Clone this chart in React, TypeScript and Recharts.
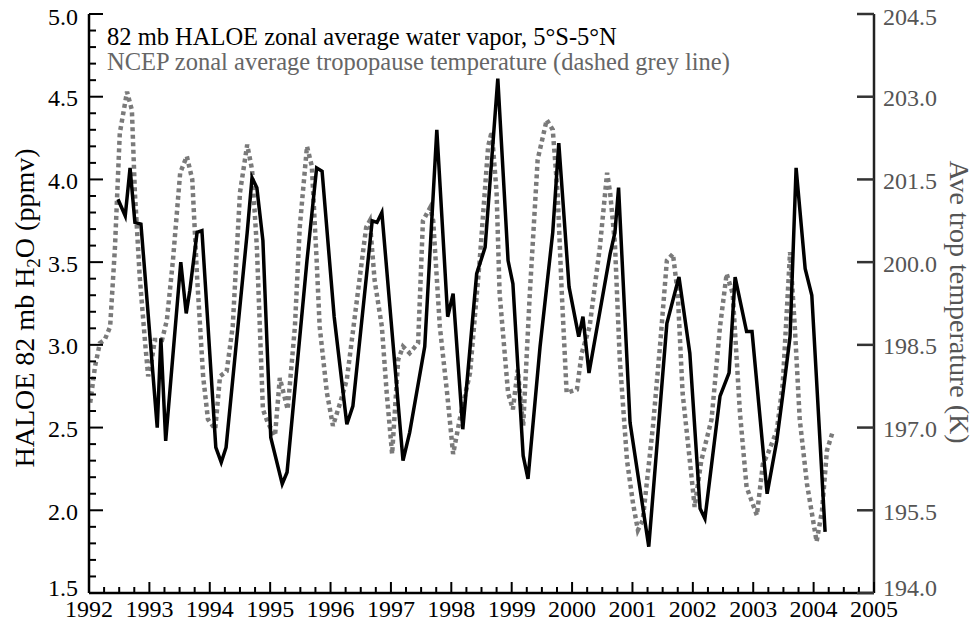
import React from 'react';
import { LineChart, Line, XAxis, YAxis } from 'recharts';

// HALOE 82 mb water vapour (ppmv)
const h2oYears = [
  1992.48, 1992.6, 1992.68, 1992.76, 1992.86, 1993.13, 1993.19, 1993.27, 1993.52, 1993.61,
  1993.67, 1993.79, 1993.87, 1994.1, 1994.19, 1994.27, 1994.62, 1994.7, 1994.78, 1994.88,
  1995.01, 1995.2, 1995.28, 1995.61, 1995.77, 1995.86, 1996.06, 1996.27, 1996.37, 1996.69,
  1996.77, 1996.85, 1997.2, 1997.31, 1997.56, 1997.76, 1997.94, 1998.03, 1998.19, 1998.42,
  1998.56, 1998.77, 1998.94, 1999.02, 1999.19, 1999.27, 1999.47, 1999.68, 1999.78, 1999.95,
  2000.11, 2000.18, 2000.28, 2000.63, 2000.71, 2000.77, 2000.96, 2001.27, 2001.57, 2001.77,
  2001.95, 2002.12, 2002.2, 2002.45, 2002.6, 2002.7, 2002.89, 2002.98, 2003.23, 2003.39,
  2003.49, 2003.61, 2003.71, 2003.86, 2003.97, 2004.19,
];
const h2oPpmv = [
  3.88, 3.78, 4.07, 3.74, 3.73, 2.5, 3.04, 2.42, 3.5, 3.19,
  3.33, 3.68, 3.69, 2.38, 2.29, 2.38, 3.68, 4.01, 3.95, 3.63,
  2.44, 2.16, 2.23, 3.51, 4.07, 4.05, 3.17, 2.52, 2.63, 3.75,
  3.74, 3.8, 2.3, 2.47, 2.99, 4.3, 3.17, 3.31, 2.49, 3.43,
  3.59, 4.61, 3.51, 3.37, 2.33, 2.19, 2.99, 3.68, 4.22, 3.35,
  3.05, 3.17, 2.83, 3.55, 3.68, 3.95, 2.53, 1.78, 3.13, 3.41,
  2.95, 2.01, 1.95, 2.69, 2.83, 3.41, 3.08, 3.08, 2.1, 2.42,
  2.7, 3.05, 4.07, 3.46, 3.3, 1.87,
];

// NCEP zonal average tropopause temperature (K)
const tempYears = [
  1992.02, 1992.1, 1992.18, 1992.26, 1992.35, 1992.43, 1992.51, 1992.63, 1992.71, 1992.76,
  1992.84, 1992.93, 1992.98, 1993.04, 1993.09, 1993.21, 1993.29, 1993.39, 1993.51, 1993.62,
  1993.71, 1993.79, 1993.89, 1993.97, 1994.09, 1994.17, 1994.28, 1994.38, 1994.5, 1994.62,
  1994.7, 1994.78, 1994.88, 1994.96, 1995.08, 1995.16, 1995.29, 1995.41, 1995.49, 1995.61,
  1995.69, 1995.77, 1995.82, 1995.94, 1996.04, 1996.16, 1996.27, 1996.45, 1996.59, 1996.65,
  1996.73, 1996.85, 1996.93, 1997.02, 1997.12, 1997.2, 1997.31, 1997.45, 1997.53, 1997.65,
  1997.7, 1997.81, 1997.93, 1998.03, 1998.14, 1998.31, 1998.47, 1998.61, 1998.67, 1998.75,
  1998.8, 1998.94, 1999.02, 1999.1, 1999.19, 1999.3, 1999.43, 1999.58, 1999.68, 1999.76,
  1999.83, 1999.91, 2000.08, 2000.16, 2000.29, 2000.46, 2000.58, 2000.63, 2000.71, 2000.79,
  2000.91, 2001.01, 2001.09, 2001.17, 2001.34, 2001.46, 2001.57, 2001.67, 2001.75, 2001.83,
  2001.95, 2002.03, 2002.14, 2002.31, 2002.45, 2002.56, 2002.66, 2002.78, 2002.89, 2003.06,
  2003.16, 2003.24, 2003.39, 2003.49, 2003.61, 2003.69, 2003.77, 2003.89, 2004.05, 2004.14,
  2004.22, 2004.32,
];
const tempK = [
  197.45, 198.11, 198.53, 198.59, 198.83, 200.27, 202.34, 203.09, 202.76, 201.26,
  199.73, 198.53, 197.93, 198.23, 198.59, 198.59, 198.95, 200.03, 201.62, 201.92,
  201.5, 199.73, 197.93, 197.15, 196.97, 197.93, 198.02, 198.83, 201.26, 202.13,
  201.68, 200.27, 197.33, 197.09, 196.85, 197.9, 197.33, 198.83, 200.63, 202.1,
  201.74, 200.03, 198.83, 197.63, 197.03, 197.45, 197.87, 199.43, 200.63, 200.75,
  199.67, 198.83, 197.63, 196.52, 198.23, 198.47, 198.35, 198.53, 200.75, 200.99,
  200.75, 198.83, 197.63, 196.52, 197.15, 197.99, 200.03, 202.1, 202.37, 201.26,
  199.43, 197.63, 197.33, 198.05, 197.03, 199.43, 201.86, 202.58, 202.4, 201.26,
  199.43, 197.63, 197.69, 198.35, 198.83, 200.27, 201.62, 201.26, 200.33, 198.23,
  196.4, 195.62, 195.14, 195.32, 197.03, 198.53, 200.03, 200.15, 199.43, 197.63,
  196.4, 195.56, 196.4, 197.15, 198.83, 199.79, 199.43, 197.27, 195.92, 195.41,
  196.34, 196.52, 196.94, 197.81, 200.18, 198.8, 197.15, 195.98, 194.93, 195.5,
  196.58, 196.94,
];

// Axis ticks
const xTicks = Array.from({ length: 53 }, (_, i) => 1992 + i * 0.25);
const leftTicks = Array.from({ length: 36 }, (_, i) => Math.round((1.5 + i * 0.1) * 10) / 10);
const rightTicks = [194.0, 195.5, 197.0, 198.5, 200.0, 201.5, 203.0, 204.5];

const legendLine1 = '82 mb HALOE zonal average water vapor, 5°S-5°N';
const legendLine2 = 'NCEP zonal average tropopause temperature (dashed grey line)';

const h2oData = h2oYears.map((year, i) => ({ year, h2o: h2oPpmv[i] }));
const tempData = tempYears.map((year, i) => ({ year, temp: tempK[i] }));

const FONT = '"Liberation Serif", "Times New Roman", serif';
const W = 974;
const H = 626;
const TICK_FS = 24;
const TITLE_FS = 28;

const isMajor = (v: number, step: number) => Math.abs(v / step - Math.round(v / step)) < 1e-6;

const BottomTick = (props: any) => {
  const { x, y, payload } = props;
  const v = payload.value;
  const major = isMajor(v, 1);
  return (
    <g>
      <line x1={x} x2={x} y1={y} y2={y - (major ? 11 : 6)} stroke="#000" strokeWidth={2} />
      {major && (
        <text x={x} y={y + 24} textAnchor="middle" fontFamily={FONT} fontSize={TICK_FS} fill="#000">
          {v}
        </text>
      )}
    </g>
  );
};

const TopTick = (props: any) => {
  const { x, y, payload } = props;
  const major = isMajor(payload.value, 1);
  return <line x1={x} x2={x} y1={y} y2={y + (major ? 11 : 6)} stroke="#000" strokeWidth={2} />;
};

const LeftTick = (props: any) => {
  const { x, y, payload } = props;
  const v = payload.value;
  const major = isMajor(v, 0.5);
  const dy = v === 1.5 ? -5 : v === 5.0 ? 3 : 1;
  return (
    <g>
      <line x1={x} x2={x + (major ? 14 : 7)} y1={y} y2={y} stroke="#000" strokeWidth={2} />
      {major && (
        <text x={x - 11} y={y + dy} dy="0.35em" textAnchor="end" fontFamily={FONT} fontSize={TICK_FS} fill="#000">
          {v.toFixed(1)}
        </text>
      )}
    </g>
  );
};

const RightTick = (props: any) => {
  const { x, y, payload } = props;
  const v = payload.value;
  const dy = v === 194.0 ? -5 : v === 204.5 ? 3 : 1;
  return (
    <g>
      <line x1={x} x2={x - 17} y1={y} y2={y} stroke="#333" strokeWidth={2.5} />
      <text x={x + 9} y={y + dy} dy="0.35em" textAnchor="start" fontFamily={FONT} fontSize={TICK_FS} fill="#555">
        {v.toFixed(1)}
      </text>
    </g>
  );
};

const LeftTitle = () => (
  <text
    transform="translate(24, 308) rotate(-90)"
    textAnchor="middle"
    dy="0.35em"
    fontFamily={FONT}
    fontSize={TITLE_FS}
    fill="#000"
  >
    HALOE 82 mb H
    <tspan fontSize={19} dy={6}>2</tspan>
    <tspan dy={-6}>O (ppmv)</tspan>
  </text>
);

const RightTitle = () => (
  <text
    transform="translate(960, 302) rotate(90)"
    textAnchor="middle"
    dy="0.35em"
    fontFamily={FONT}
    fontSize={TITLE_FS}
    fill="#555"
  >
    Ave trop temperature (K)
  </text>
);

export default function App() {
  return (
    <div style={{ position: 'absolute', left: 0, top: 0, width: W, height: H, background: '#fff' }}>
      <LineChart width={W} height={H} margin={{ top: 14, right: 0, bottom: 0, left: 0 }}>
        <XAxis
          xAxisId="bottom"
          dataKey="year"
          type="number"
          domain={[1992, 2005]}
          ticks={xTicks}
          interval={0}
          height={33}
          tickSize={0}
          tickMargin={0}
          tickLine={false}
          tick={BottomTick}
          axisLine={{ stroke: '#000', strokeWidth: 2.5 }}
          allowDataOverflow
        />
        <XAxis
          xAxisId="top"
          orientation="top"
          dataKey="year"
          type="number"
          domain={[1992, 2005]}
          ticks={xTicks}
          interval={0}
          height={0}
          tickSize={0}
          tickMargin={0}
          tickLine={false}
          tick={TopTick}
          axisLine={{ stroke: '#000', strokeWidth: 2.5 }}
          allowDataOverflow
        />
        <YAxis
          yAxisId="left"
          type="number"
          domain={[1.5, 5.0]}
          ticks={leftTicks}
          interval={0}
          width={89}
          tickSize={0}
          tickMargin={0}
          tickLine={false}
          tick={LeftTick}
          axisLine={{ stroke: '#000', strokeWidth: 2.5 }}
          label={{ content: LeftTitle }}
          allowDataOverflow
        />
        <YAxis
          yAxisId="right"
          orientation="right"
          type="number"
          domain={[194.0, 204.5]}
          ticks={rightTicks}
          interval={0}
          width={100}
          tickSize={0}
          tickMargin={0}
          tickLine={false}
          tick={RightTick}
          axisLine={{ stroke: '#222', strokeWidth: 2.5 }}
          label={{ content: RightTitle }}
          allowDataOverflow
        />
        <Line
          data={tempData}
          xAxisId="bottom"
          yAxisId="right"
          dataKey="temp"
          type="linear"
          stroke="#7a7a7a"
          strokeWidth={4.5}
          strokeDasharray="4 3.5"
          dot={false}
          activeDot={false}
          isAnimationActive={false}
        />
        <Line
          data={h2oData}
          xAxisId="bottom"
          yAxisId="left"
          dataKey="h2o"
          type="linear"
          stroke="#000"
          strokeWidth={3.5}
          strokeLinejoin="miter"
          dot={false}
          activeDot={false}
          isAnimationActive={false}
        />
      </LineChart>
      <div
        style={{
          position: 'absolute',
          left: 107,
          top: 24,
          fontFamily: FONT,
          fontSize: 24.5,
          lineHeight: '25px',
          whiteSpace: 'nowrap',
        }}
      >
        <div style={{ color: '#000' }}>{legendLine1}</div>
        <div style={{ color: '#666' }}>{legendLine2}</div>
      </div>
    </div>
  );
}
